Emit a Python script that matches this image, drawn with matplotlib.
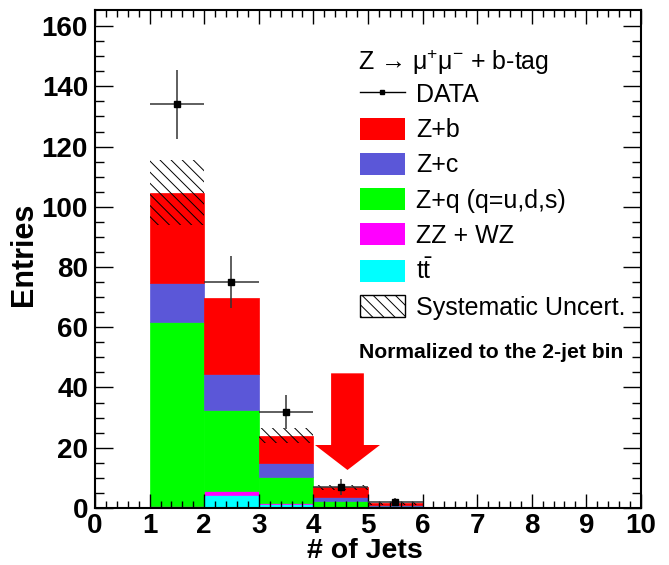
import matplotlib
matplotlib.use("Agg")
import matplotlib.pyplot as plt
from matplotlib.patches import Patch
from matplotlib.lines import Line2D
import numpy as np

plt.rcParams['font.family'] = ['Liberation Sans', 'DejaVu Sans']
plt.rcParams['mathtext.fontset'] = 'custom'
plt.rcParams['mathtext.rm'] = 'Liberation Sans'
plt.rcParams['mathtext.default'] = 'regular'
plt.rcParams['hatch.linewidth'] = 0.7

# Bin edges: number of jets 0..10
edges = np.arange(0, 11)

# Stacked MC contributions per bin (bottom to top)
ttbar = [0, 0.45, 4.3, 1.2, 0.3, 0.1, 0, 0, 0, 0]
zz_wz = [0, 0.15, 1.3, 0.4, 0.1, 0.05, 0, 0, 0, 0]
z_q = [0, 61.0, 27.0, 8.7, 1.9, 0.6, 0, 0, 0, 0]
z_c = [0, 13.0, 11.9, 4.75, 1.45, 0.3, 0, 0, 0, 0]
z_b = [0, 30.1, 25.2, 8.95, 3.05, 0.5, 0.3, 0, 0, 0]
syst = [0, 10.7, 0, 2.4, 0.8, 0.55, 0, 0, 0, 0]

# Data
data_x = [1.5, 2.5, 3.5, 4.5, 5.5]
data_y = [134, 75, 32, 7, 2]

stack = [(ttbar, '#00ffff'), (zz_wz, '#ff00ff'), (z_q, '#00ff00'),
         (z_c, '#5b57d8'), (z_b, '#ff0000')]

fig = plt.figure(figsize=(6.69, 5.65), dpi=100)
ax = fig.add_axes([0.142, 0.101, 0.816, 0.881])

bottom = np.zeros(10)
for vals, col in stack:
    vals = np.array(vals)
    ax.bar(edges[:-1], vals, width=1, bottom=bottom, align='edge',
           color=col, edgecolor=col, linewidth=0.5, zorder=1)
    bottom += vals

tot = bottom
syst = np.array(syst)
ax.bar(edges[:-1], 2 * syst, width=1, bottom=tot - syst, align='edge',
       fill=False, hatch='\\\\\\', edgecolor='black', linewidth=0, zorder=1.5)

ax.errorbar(data_x, data_y, yerr=np.sqrt(data_y), xerr=0.5, fmt='s',
            color='black', ecolor='#333333', elinewidth=1.1, markersize=4.5,
            capsize=0, zorder=3)

# red arrow
ax.arrow(4.625, 44.7, 0, -32.1, width=0.6, head_width=1.19, head_length=8.3,
         length_includes_head=True, color='red', linewidth=0, zorder=2)

ax.text(0.483, 0.301, 'Normalized to the 2-jet bin', transform=ax.transAxes,
        fontsize=15.2, fontweight='bold', ha='left', va='baseline')

ax.set_xlim(0, 10)
ax.set_ylim(0, 165.3)
ax.set_xticks(np.arange(0, 11, 1))
ax.set_xticks(np.arange(0, 10.01, 0.2), minor=True)
ax.set_yticks(np.arange(0, 161, 20))
ax.set_yticks(np.arange(0, 165, 5), minor=True)
for lab in ax.get_xticklabels() + ax.get_yticklabels():
    lab.set_fontweight('bold')
ax.tick_params(axis='both', which='both', direction='in', top=True,
               right=True, width=1.0, labelsize=20)
ax.tick_params(axis='y', which='major', length=13, pad=5)
ax.tick_params(axis='y', which='minor', length=6.5)
ax.tick_params(axis='x', which='major', length=10, pad=4)
ax.tick_params(axis='x', which='minor', length=5)
for s in ax.spines.values():
    s.set_linewidth(1.5)

ax.set_xlabel('# of Jets', fontsize=20.5, fontweight='bold')
ax.set_ylabel('Entries', fontsize=22, fontweight='bold')
ax.xaxis.set_label_coords(0.495, -0.06)
ax.yaxis.set_label_coords(-0.1026, 0.51)

ax.text(0.4817, 0.8795, 'Z \u2192 \u03bc$^{+}$\u03bc$^{-}$ + b-tag',
        transform=ax.transAxes, fontsize=18, ha='left', va='baseline')

handles = [Line2D([], [], color='black', marker='s', markersize=3, lw=1),
           Patch(facecolor='#ff0000', edgecolor='none'),
           Patch(facecolor='#5b57d8', edgecolor='none'),
           Patch(facecolor='#00ff00', edgecolor='none'),
           Patch(facecolor='#ff00ff', edgecolor='none'),
           Patch(facecolor='#00ffff', edgecolor='none'),
           Patch(facecolor='white', edgecolor='black', hatch='\\\\\\', lw=1)]
labels = ['DATA', 'Z+b', 'Z+c', 'Z+q (q=u,d,s)', 'ZZ + WZ', r'$t\bar{t}$',
          'Systematic Uncert.']
leg = ax.legend(handles, labels, loc='upper left',
                bbox_to_anchor=(0.485, 0.8545), frameon=False, fontsize=18,
                handlelength=1.8, handleheight=0.96, handletextpad=0.44,
                labelspacing=0.43, borderpad=0, borderaxespad=0)

fig.savefig('out.png', dpi=100)
